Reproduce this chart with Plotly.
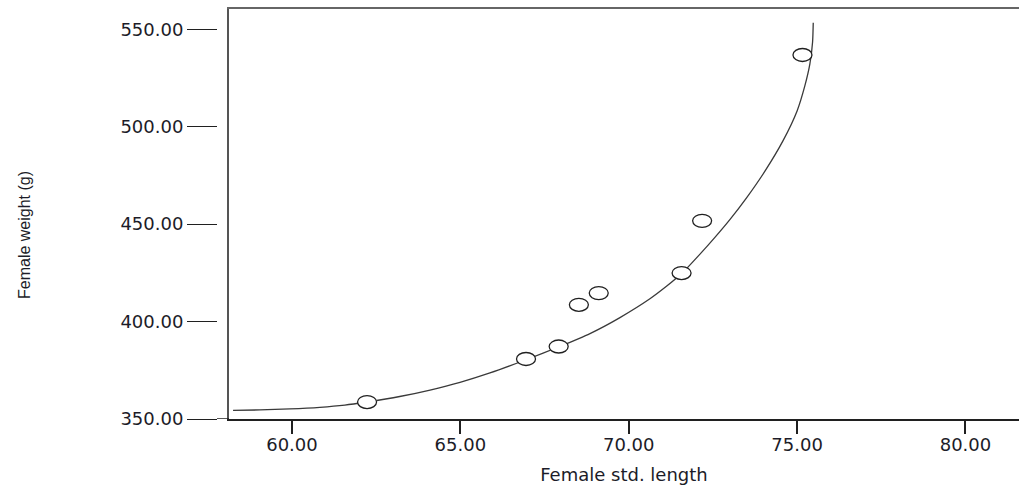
import plotly.graph_objects as go

# Observed data points (Female std. length vs Female weight)
length_pts = [62.23, 66.95, 67.92, 68.52, 69.11, 71.57, 72.18, 75.16]
weight_pts = [358.7, 380.8, 387.2, 408.6, 414.6, 424.9, 451.7, 536.8]

# Fitted curve
curve_x = [58.25, 59.05, 59.94, 60.83, 61.57, 62.22, 63.20, 64.10, 64.99, 65.88,
           66.95, 67.93, 68.85, 69.74, 70.63, 71.13, 71.58, 72.11, 72.56, 73.01,
           73.51, 74.05, 74.58, 75.00, 75.23, 75.38, 75.46, 75.48]
curve_y = [354.41, 354.67, 355.18, 356.00, 357.13, 358.72, 361.54, 364.87, 368.82, 373.64,
           380.41, 387.08, 393.85, 402.05, 411.69, 418.21, 424.77, 434.51, 443.23, 452.46,
           463.74, 477.33, 492.72, 508.10, 520.92, 532.21, 543.49, 553.38]

x_ticks = [60, 65, 70, 75, 80]
y_ticks = [350, 400, 450, 500, 550]

X_RANGE = [58.13, 81.59]
Y_RANGE = [350, 560.4]

W, H = 1019, 487
ML, MR, MT, MB = 60, 0, 9, 68
PW = W - ML - MR
PH = H - MT - MB
x_dom0 = (229 - ML) / PW
y2_pos = (217 - ML) / PW

TXT = "#1c1c28"
TICKFONT = dict(family="DejaVu Sans", size=18, color=TXT)

fig = go.Figure()
fig.add_trace(go.Scatter(x=curve_x, y=curve_y, mode="lines",
                         line=dict(color="#3a3a3a", width=1.3,
                                   shape="spline", smoothing=0.6),
                         showlegend=False, hoverinfo="skip"))
# helper traces so the extra axes exist
fig.add_trace(go.Scatter(x=[], y=[], yaxis="y2", showlegend=False))
fig.add_trace(go.Scatter(x=[], y=[], xaxis="x2", showlegend=False))

# data points drawn as open ellipses anchored at data coordinates
for xv, yv in zip(length_pts, weight_pts):
    fig.add_shape(type="circle", xref="x", yref="y",
                  xsizemode="pixel", ysizemode="pixel",
                  xanchor=xv, yanchor=yv, x0=-9.5, x1=9.5, y0=-6.5, y1=6.5,
                  fillcolor="white", line=dict(color="#202020", width=1.3),
                  layer="above")

# extension of the bottom line towards the 350 tick
fig.add_shape(type="line", xref="paper", yref="y",
              x0=y2_pos, x1=x_dom0, y0=350, y1=350,
              line=dict(color="#202020", width=1.5))

fig.add_annotation(text="Female weight (g)", textangle=-90,
                   xref="paper", yref="paper",
                   x=(24 - ML) / PW, y=(H - MB - 235) / PH,
                   xanchor="center", yanchor="middle", showarrow=False,
                   font=dict(family="Liberation Sans", size=16, color=TXT))

fig.update_layout(
    width=W, height=H,
    margin=dict(l=ML, r=MR, t=MT, b=MB),
    paper_bgcolor="white", plot_bgcolor="white",
    showlegend=False,
    xaxis=dict(domain=[x_dom0, 1], range=X_RANGE, anchor="y",
               tickvals=x_ticks, tickformat=".2f",
               ticks="outside", ticklen=13, tickwidth=1.5, tickcolor="#202020",
               ticklabelstandoff=-4,
               showline=True, linecolor="#202020", linewidth=1.5,
               showgrid=False, zeroline=False, tickfont=TICKFONT,
               title=dict(text="Female std. length",
                          font=dict(family="DejaVu Sans", size=18, color=TXT),
                          standoff=14)),
    xaxis2=dict(domain=[x_dom0, 1], range=X_RANGE, overlaying="x", side="top",
                anchor="y", showline=True, linecolor="#666666", linewidth=2,
                ticks="", showticklabels=False, showgrid=False, zeroline=False),
    yaxis=dict(range=Y_RANGE, anchor="x", showline=True, linecolor="#555555",
               linewidth=2, ticks="", showticklabels=False,
               showgrid=False, zeroline=False),
    yaxis2=dict(range=Y_RANGE, overlaying="y", anchor="free", position=y2_pos,
                side="left", tickvals=y_ticks, tickformat=".2f",
                ticks="outside", ticklen=30, tickwidth=1.3, tickcolor="#202020",
                showline=False, showgrid=False, zeroline=False,
                tickfont=TICKFONT),
)

fig.write_html("out.html")
